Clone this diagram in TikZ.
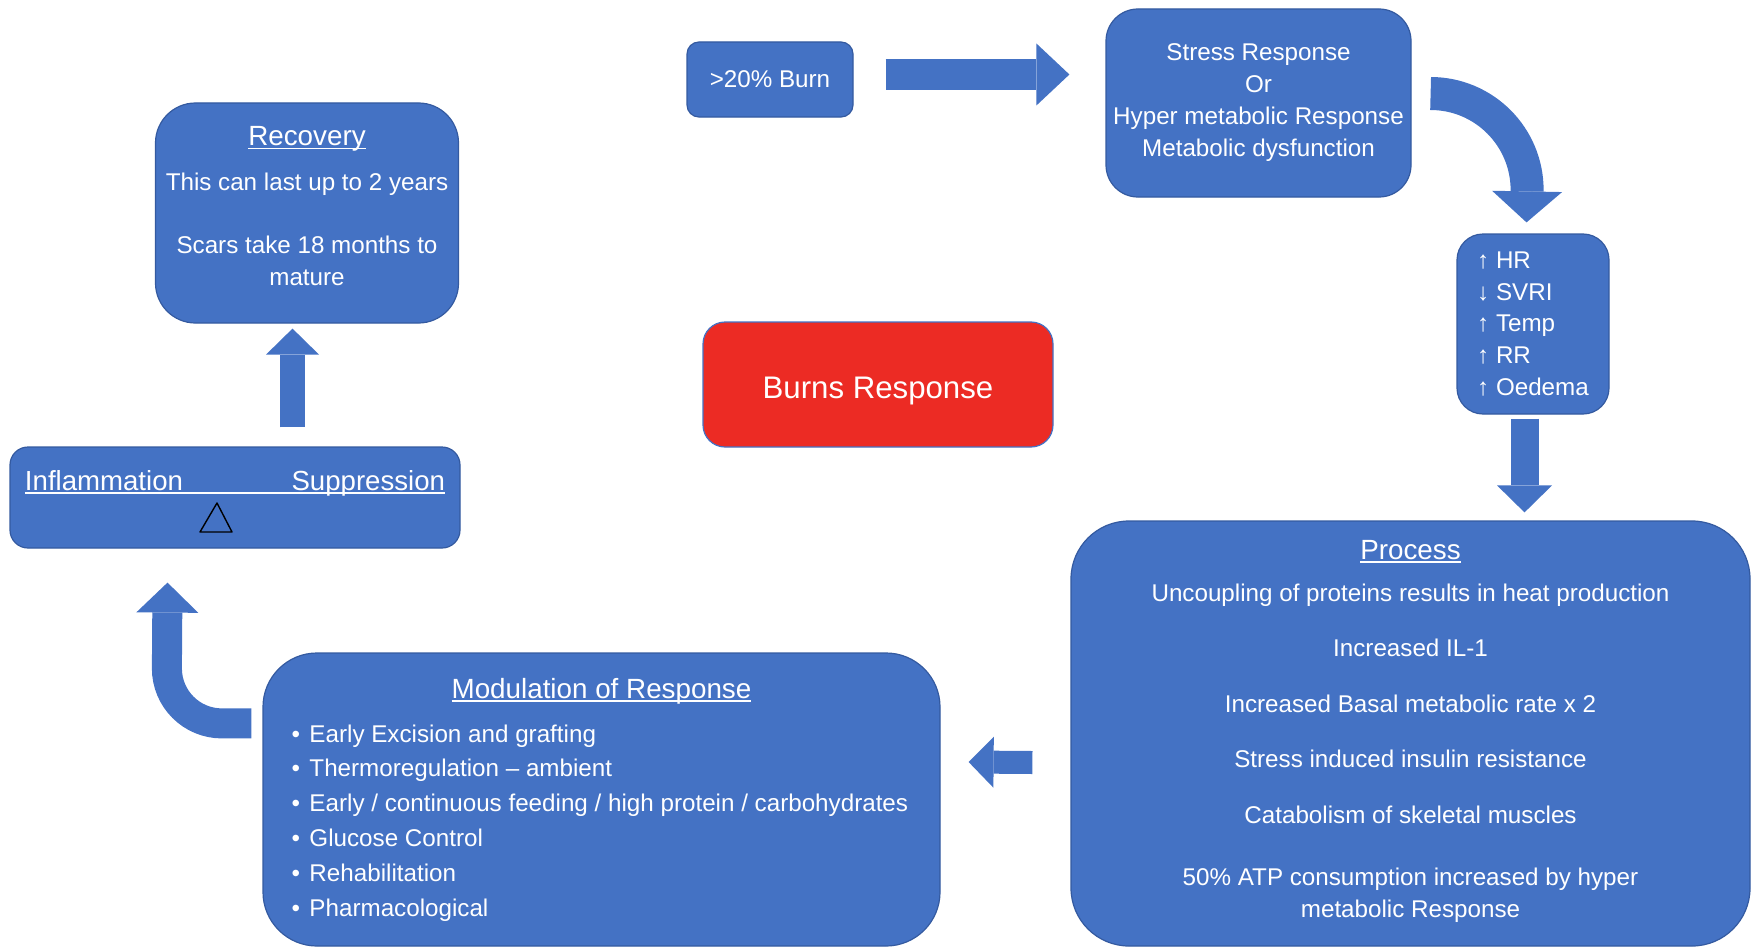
\documentclass[tikz,border=0pt]{standalone}
\usepackage{fontspec}
\setmainfont{Liberation Sans}
\usepackage{xcolor}
\usetikzlibrary{positioning,arrows.meta,calc}

\definecolor{boxblue}{RGB}{68,114,196}
\definecolor{boxedge}{RGB}{52,90,160}
\definecolor{burnred}{RGB}{236,43,36}

\newcommand{\bxfont}{\fontsize{12.1}{16}\selectfont}
\newcommand{\hdfont}{\fontsize{13.9}{16}\selectfont}
\newcommand{\bitem}[1]{\makebox[310pt][l]{\makebox[9pt][l]{\textbullet}#1}}
\newsavebox{\ulbox}
\newcommand{\uln}[1]{\sbox{\ulbox}{#1}\rlap{\rule[-1.9pt]{\wd\ulbox}{0.8pt}}\usebox{\ulbox}}

\begin{document}
\begin{tikzpicture}[
  x=0.5pt, y=-0.5pt,
  box/.style={draw=boxedge, line width=0.6pt, fill=boxblue, text=white, font=\bxfont, align=center, inner sep=0pt, rounded corners=#1},
  box/.default=10pt,
  blockarrow/.style n args={3}{draw=boxblue, line width=#1, -{Triangle[width=#2 0 0, length=#3 0 0, line width=0pt 0 0]}},
]
  \useasboundingbox (0,0) rectangle (1759,947);

  \node (burn) [box=6pt, minimum width=83pt, minimum height=37.5pt] at (770,79.5) {>20\% Burn};
  \node (stress) [box=16pt, minimum width=152.5pt, minimum height=94pt] at (1258.5,103) {Stress Response\\Or\\Hyper metabolic Response\\Metabolic dysfunction};
  \node (vitals) [box=13pt, align=left, font=\fontsize{12.1}{15.8}\selectfont, minimum width=76pt, minimum height=90pt] at (1533,324) {↑ HR\\↓ SVRI\\↑ Temp\\↑ RR\\↑ Oedema};
  \node (burns-response) [box=11pt, fill=burnred, draw=boxblue, font=\fontsize{15.6}{18}\selectfont, minimum width=175pt, minimum height=62.5pt, text height=13.6pt, text depth=0pt] at (878,384.5) {Burns Response};

  % process and treatment
  \node (process) [box=29pt, minimum width=339.5pt, minimum height=212.5pt] at (1410.5,733.5) {{\hdfont\uln{Process}}\\[5pt]
    Uncoupling of proteins results in heat production\\[11.5pt]
    Increased IL-1\\[12pt]
    Increased Basal metabolic rate x 2\\[11.5pt]
    Stress induced insulin resistance\\[12pt]
    Catabolism of skeletal muscles\\[15pt]
    50\% ATP consumption increased by hyper\\metabolic Response\\[-11.2pt]\mbox{}};
  \node (modulation) [box=27pt, font=\fontsize{12.1}{17.4}\selectfont, minimum width=338.5pt, minimum height=146.5pt] at (601.5,799.5) {{\hdfont\uln{Modulation of Response}}\\[4.6pt]
    \bitem{Early Excision and grafting}\\
    \bitem{Thermoregulation -- ambient}\\
    \bitem{Early / continuous feeding / high protein / carbohydrates}\\
    \bitem{Glucose Control}\\
    \bitem{Rehabilitation}\\
    \bitem{Pharmacological}};

  % recovery side
  \node (infl-supp) [box=9pt, font=\fontsize{13.8}{16}\selectfont, minimum width=225pt, minimum height=50.5pt, text height=9.5pt, text depth=17pt] at (235,497.5) {\uln{\makebox[210pt]{Inflammation\hfill Suppression}}};
  \draw[line width=0.7pt, line join=round] ([shift={(-18,5.5)}]infl-supp.center) -- ++(-17,29) -- ++(32,0) -- cycle;
  \node (recovery) [box=20pt, minimum width=151.5pt, minimum height=110pt] at (307,213) {{\hdfont\uln{Recovery}}\\[6.5pt]This can last up to 2 years\\[15.5pt]Scars take 18 months to\\mature\\[-9pt]\mbox{}};

  \draw[blockarrow={15.5pt}{31pt}{16.5pt}] ([shift={(32,-5)}]burn.east) -- ([shift={(-36,-28.5)}]stress.west);
  \draw[blockarrow={16.5pt}{35pt}{15.5pt}] ([shift={(19,-9.5)}]stress.east) arc[start angle=270, end angle=360, radius=96.5] -- ([shift={(-6.5,-11)}]vitals.north);
  \draw[blockarrow={14pt}{27.5pt}{13.5pt}] ([shift={(-8.5,4)}]vitals.south) -- ([shift={(114,-8)}]process.north);
  \draw[blockarrow={11.5pt}{25.5pt}{12.5pt}] ([shift={(-38,29)}]process.west) -- ([shift={(28,-37.5)}]modulation.east);
  \draw[blockarrow={15pt}{31pt}{15pt}] ([shift={(-11,71)}]modulation.north west) -- ++(-29.5,0) arc[start angle=90, end angle=180, radius=55] -- ([shift={(-67.5,34)}]infl-supp.south);
  \draw[blockarrow={12.5pt}{26.5pt}{13pt}] ([shift={(57.5,-19)}]infl-supp.north) -- ([shift={(-14.5,5)}]recovery.south);
\end{tikzpicture}
\end{document}
